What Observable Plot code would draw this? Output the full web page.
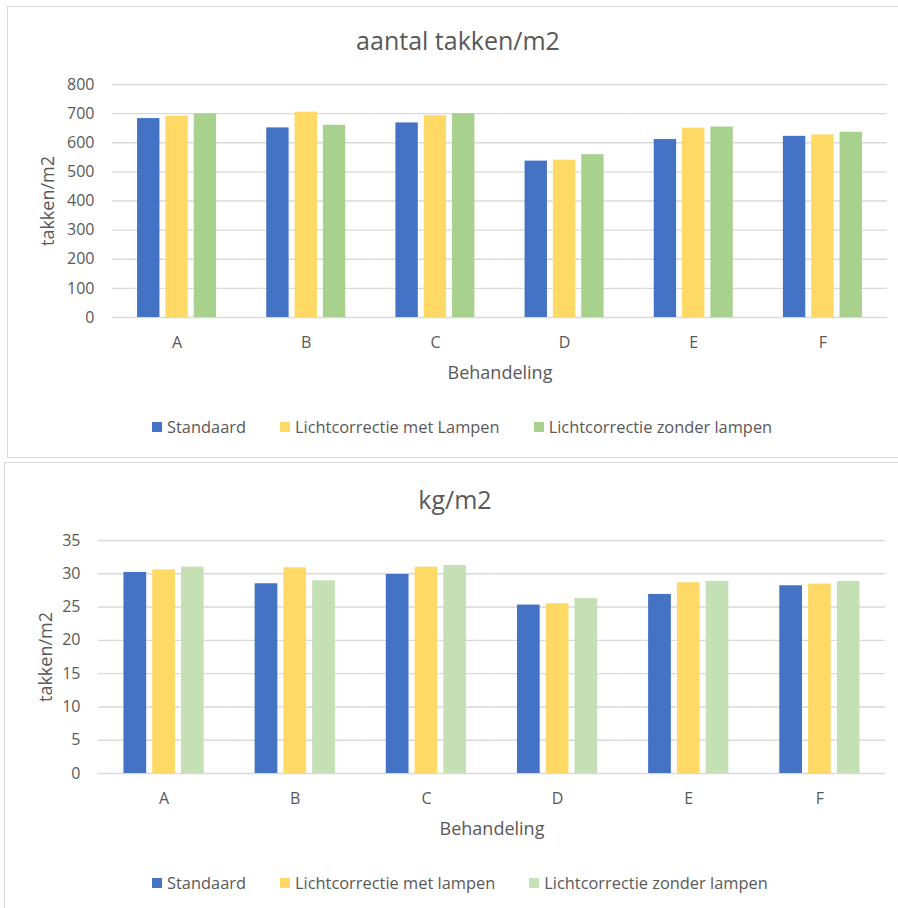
<!DOCTYPE html>
<html>
<head>
<meta charset="utf-8">
<script src="https://cdn.jsdelivr.net/npm/d3@7"></script>
<script src="https://cdn.jsdelivr.net/npm/@observablehq/plot@0.6"></script>
<style>
  body { margin: 0; background: #fff; font-family: "Open Sans", sans-serif; color: #595959; }
  #page { position: relative; width: 898px; height: 908px; overflow: hidden; background: #fff; }
  .box { position: absolute; border: 1.5px solid #d9d9d9; box-sizing: border-box; }
  .title { position: absolute; text-align: center; font-size: 25px; line-height: 34px; white-space: nowrap; color: #595959; }
  .chart { position: absolute; left: 0; }
  .legend { position: absolute; display: flex; align-items: center; font-size: 16.4px; line-height: 20px; white-space: nowrap; color: #595959; }
  .legend .item { display: flex; align-items: center; margin-right: 34px; }
  .legend .sw { width: 10px; height: 10px; margin-right: 5px; flex: none; }
</style>
</head>
<body>
<div id="page"></div>
<script>
// Behandelingen (categories on the x axis)
const categories = ["A", "B", "C", "D", "E", "F"];

// Series names as shown in each legend
const seriesTakken = ["Standaard", "Lichtcorrectie met Lampen", "Lichtcorrectie zonder lampen"];
const seriesKg = ["Standaard", "Lichtcorrectie met lampen", "Lichtcorrectie zonder lampen"];

// aantal takken/m2 per behandeling
const takkenStandaard = [683, 651, 668, 537, 611, 622];
const takkenMetLampen = [691, 705, 693, 540, 650, 627];
const takkenZonderLampen = [699, 660, 700, 559, 654, 636];

// kg/m2 per behandeling
const kgStandaard = [30.2, 28.5, 29.9, 25.3, 26.9, 28.2];
const kgMetLampen = [30.6, 30.9, 31.0, 25.5, 28.65, 28.45];
const kgZonderLampen = [31.0, 28.95, 31.25, 26.3, 28.85, 28.85];

// Axis ticks
const takkenTicks = [0, 100, 200, 300, 400, 500, 600, 700, 800];
const kgTicks = [0, 5, 10, 15, 20, 25, 30, 35];

const coloursTakken = ["#4472C4", "#FFD966", "#A9D18E"];
const coloursKg = ["#4472C4", "#FFD966", "#C5E0B4"];

const page = document.getElementById("page");

function longTable(series, columns) {
  const rows = [];
  categories.forEach((c, i) => {
    series.forEach((s, j) => rows.push({cat: c, series: s, value: columns[j][i]}));
  });
  return rows;
}

function addChart(cfg) {
  const box = document.createElement("div");
  box.className = "box";
  Object.assign(box.style, cfg.box);
  page.appendChild(box);

  const title = document.createElement("div");
  title.className = "title";
  title.textContent = cfg.title;
  Object.assign(title.style, {left: cfg.titleCenter - 300 + "px", width: "600px", top: cfg.titleTop + "px"});
  page.appendChild(title);

  const rows = longTable(cfg.series, cfg.columns);
  const svg = Plot.plot({
    width: 898,
    height: cfg.height,
    marginTop: cfg.margin[0],
    marginRight: cfg.margin[1],
    marginBottom: cfg.margin[2],
    marginLeft: cfg.margin[3],
    style: {fontFamily: "'Open Sans', sans-serif", color: "#595959", background: "transparent", overflow: "visible"},
    fx: {domain: categories, padding: 0, round: false, label: null, axis: null},
    x: {domain: cfg.series, axis: null, paddingInner: 0.21, paddingOuter: 0.885, round: false},
    y: {domain: [0, cfg.ticks[cfg.ticks.length - 1]], label: null},
    color: {domain: cfg.series, range: cfg.colours},
    marks: [
      Plot.gridY(cfg.ticks, {stroke: "#d9d9d9", strokeOpacity: 1, strokeWidth: 1.4}),
      Plot.barY(rows, {fx: "cat", x: "series", y: "value", fill: "series"}),
      Plot.axisY(cfg.ticks, {tickSize: 0, tickPadding: 18, fontSize: 16, fill: "#595959", label: null}),
      Plot.axisY({ticks: [], label: cfg.yLabel, labelAnchor: "center", labelArrow: "none", labelOffset: cfg.yLabelOffset, fontSize: 18, fill: "#595959"}),
      Plot.axisFx({anchor: "bottom", tickSize: 0, tickPadding: 19, fontSize: 16, fill: "#595959", label: null}),
      Plot.axisFx({anchor: "bottom", ticks: [], label: "Behandeling", labelAnchor: "center", labelArrow: "none", labelOffset: cfg.xLabelOffset, fontSize: 18, fill: "#595959"})
    ]
  });
  svg.classList.add("chart");
  svg.style.top = cfg.svgTop + "px";
  page.appendChild(svg);

  const legend = document.createElement("div");
  legend.className = "legend";
  Object.assign(legend.style, {left: "152px", top: cfg.legendTop + "px"});
  cfg.series.forEach((s, i) => {
    const item = document.createElement("div");
    item.className = "item";
    const sw = document.createElement("span");
    sw.className = "sw";
    sw.style.background = cfg.colours[i];
    const label = document.createElement("span");
    label.textContent = s;
    item.appendChild(sw);
    item.appendChild(label);
    legend.appendChild(item);
  });
  page.appendChild(legend);
}

addChart({
  box: {left: "7px", top: "6px", width: "904px", height: "452px"},
  title: "aantal takken/m2",
  titleCenter: 458,
  titleTop: 23,
  svgTop: 0,
  height: 400,
  margin: [84, 11, 83, 112],
  series: seriesTakken,
  columns: [takkenStandaard, takkenMetLampen, takkenZonderLampen],
  colours: coloursTakken,
  ticks: takkenTicks,
  yLabel: "takken/m2",
  yLabelOffset: 71,
  xLabelOffset: 61,
  legendTop: 417
});

addChart({
  box: {left: "4px", top: "462px", width: "904px", height: "460px"},
  title: "kg/m2",
  titleCenter: 455,
  titleTop: 482,
  svgTop: 460,
  height: 400,
  margin: [80, 13, 87, 98],
  series: seriesKg,
  columns: [kgStandaard, kgMetLampen, kgZonderLampen],
  colours: coloursKg,
  ticks: kgTicks,
  yLabel: "takken/m2",
  yLabelOffset: 59,
  xLabelOffset: 61,
  legendTop: 873
});
</script>
</body>
</html>
